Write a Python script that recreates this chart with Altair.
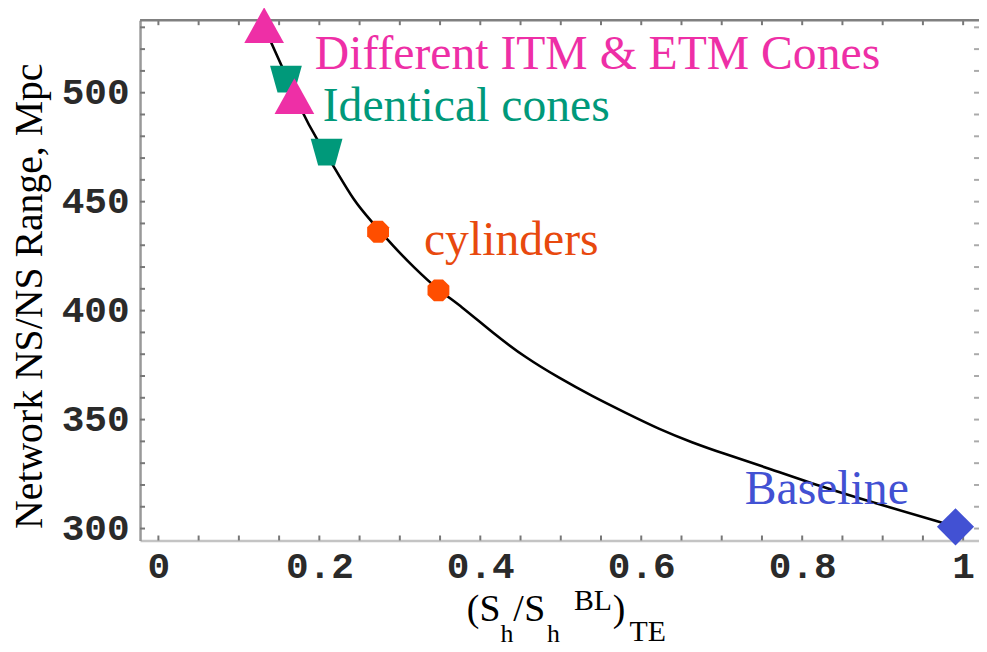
import altair as alt
import pandas as pd

# ---- data ----
curve_x = [0.131, 0.140, 0.153, 0.180, 0.196, 0.219, 0.243, 0.264, 0.293, 0.317,
           0.348, 0.375, 0.416, 0.457, 0.498, 0.539, 0.580, 0.622, 0.663, 0.704,
           0.749, 0.831, 0.914, 0.971, 0.990]
curve_y = [531.0, 522.9, 512.6, 489.8, 479.2, 465.5, 450.3, 441.2, 429.1, 420.0,
           409.3, 402.5, 389.6, 378.2, 369.1, 360.7, 353.2, 345.6, 339.5, 334.2,
           328.8, 318.2, 309.1, 303.1, 300.8]

pt_series = ["Identical cones", "Identical cones",
             "Different ITM & ETM Cones", "Different ITM & ETM Cones",
             "cylinders", "cylinders", "Baseline"]
pt_x = [0.1585, 0.209, 0.1314, 0.169, 0.273, 0.348, 0.9905]
pt_y = [506.2, 472.7, 531.0, 498.4, 436.2, 409.3, 300.8]

label_text = ["Different ITM & ETM Cones", "Identical cones", "cylinders", "Baseline"]
label_x = [0.1943, 0.2042, 0.330, 0.7286]
label_y = [510.9, 486.8, 425.3, 311.4]
label_color = ["#EE2FA6", "#00997A", "#E8490E", "#4251D3"]

x_tick_labels = [0, 0.2, 0.4, 0.6, 0.8, 1]
y_tick_labels = [300, 350, 400, 450, 500]
x_ticks = [0, 0.05, 0.1, 0.15, 0.2, 0.25, 0.3, 0.35, 0.4, 0.45, 0.5, 0.55,
           0.6, 0.65, 0.7, 0.75, 0.8, 0.85, 0.9, 0.95, 1.0]
y_ticks = [300, 310, 320, 330, 340, 350, 360, 370, 380, 390, 400, 410, 420,
           430, 440, 450, 460, 470, 480, 490, 500, 510, 520, 530]

W, H = 845, 524
XDOM = [-0.0228, 1.0197]
YDOM = [294.53, 533.26]

curve = pd.DataFrame({"x": curve_x, "y": curve_y})
pts = pd.DataFrame({"series": pt_series, "x": pt_x, "y": pt_y})
labels = pd.DataFrame({"text": label_text, "x": label_x, "y": label_y, "color": label_color})
xt = pd.DataFrame({"v": x_ticks})
yt = pd.DataFrame({"v": y_ticks})
one = pd.DataFrame({"k": [0]})

xs = alt.Scale(domain=XDOM, nice=False, zero=False)
ys = alt.Scale(domain=YDOM, nice=False, zero=False)

xaxis = alt.Axis(values=x_tick_labels, ticks=False, tickSize=0, grid=False,
                 domainColor="#c4c4c4", domainWidth=2.5,
                 labelFont="Liberation Mono", labelFontSize=38, labelFontWeight="bold",
                 labelColor="#2a2a2a", labelPadding=7, title=None,
                 labelExpr="datum.value == 0 ? '0' : datum.value == 1 ? '1' : format(datum.value, '.1f')")
yaxis = alt.Axis(values=y_tick_labels, ticks=False, tickSize=0, grid=False,
                 domainColor="#999999", domainWidth=2.5,
                 labelFont="Liberation Mono", labelFontSize=38, labelFontWeight="bold",
                 labelColor="#2a2a2a", labelPadding=11, title=None)

line = alt.Chart(curve).mark_line(color="black", strokeWidth=2.6, interpolate="basis").encode(
    x=alt.X("x:Q", scale=xs, axis=xaxis),
    y=alt.Y("y:Q", scale=ys, axis=yaxis),
)

tri_up = "M0,-0.9L1,0.9L-1,0.9Z"
trap = "M-1,-0.84L1,-0.84L0.53,0.84L-0.53,0.84Z"
octa = ("M0.383,-0.924L0.924,-0.383L0.924,0.383L0.383,0.924L-0.383,0.924"
        "L-0.924,0.383L-0.924,-0.383L-0.383,-0.924Z")

def pmark(series, shape, size, color):
    return alt.Chart(pts).transform_filter(alt.datum.series == series).mark_point(
        shape=shape, size=size, filled=True, fill=color, color=color, opacity=1, strokeWidth=0
    ).encode(x=alt.X("x:Q", scale=xs), y=alt.Y("y:Q", scale=ys))

teal = pmark("Identical cones", trap, 1024, "#00997A")
pink = pmark("Different ITM & ETM Cones", tri_up, 1600, "#EE2FA6")
orange = pmark("cylinders", octa, 567, "#FF4E00")
blue = pmark("Baseline", "diamond", 1400, "#4251D3")

texts = alt.Chart(labels).mark_text(font="Liberation Serif", fontSize=48, align="left",
                                     baseline="alphabetic").encode(
    x=alt.X("x:Q", scale=xs), y=alt.Y("y:Q", scale=ys), text="text:N",
    color=alt.Color("color:N", scale=None))

# frame ticks (inward)
tick_col = "#777777"
bt = alt.Chart(xt).mark_rule(color=tick_col, strokeWidth=2).encode(
    x=alt.X("v:Q", scale=xs), y=alt.value(H), y2=alt.value(H - 5))
tt = alt.Chart(xt).mark_rule(color=tick_col, strokeWidth=2).encode(
    x=alt.X("v:Q", scale=xs), y=alt.value(0), y2=alt.value(5))
lt = alt.Chart(yt).mark_rule(color=tick_col, strokeWidth=2).encode(
    y=alt.Y("v:Q", scale=ys), x=alt.value(0), x2=alt.value(5))
rt = alt.Chart(yt).mark_rule(color="#aaaaaa", strokeWidth=2).encode(
    y=alt.Y("v:Q", scale=ys), x=alt.value(W), x2=alt.value(W - 5))
top_frame = alt.Chart(one).mark_rule(color="#808080", strokeWidth=2.5).encode(
    x=alt.value(0), x2=alt.value(W), y=alt.value(0))

# axis titles
ytitle = alt.Chart(one).mark_text(text="Network NS/NS Range, Mpc", font="Liberation Serif",
                                  fontSize=40, angle=270, align="center", baseline="middle",
                                  color="black").encode(x=alt.value(-111), y=alt.value(278))

def piece(txt, px, py, size):
    return alt.Chart(one).mark_text(text=txt, font="Liberation Serif", fontSize=size,
                                    align="left", baseline="alphabetic", color="black").encode(
        x=alt.value(px - 141), y=alt.value(py - 18))

xtitle = (piece("(", 470, 623, 38) + piece("S", 483, 623, 38) + piece("h", 504, 644, 26)
          + piece("/", 517, 623, 38) + piece("S", 528, 623, 38) + piece("h", 551, 644, 26)
          + piece("BL", 578, 612, 30) + piece(")", 617, 623, 38) + piece("TE", 634, 643, 30))

chart = alt.layer(
    line, bt, tt, lt, rt, top_frame, teal, pink, orange, blue, texts, ytitle, xtitle
).properties(
    width=W, height=H,
    padding={"left": 133, "top": 10, "right": 0, "bottom": 106},
    autosize=alt.AutoSizeParams(type="none"),
).configure_view(stroke=None)

chart.save("out.html", embed_options={"renderer": "svg", "actions": False})
